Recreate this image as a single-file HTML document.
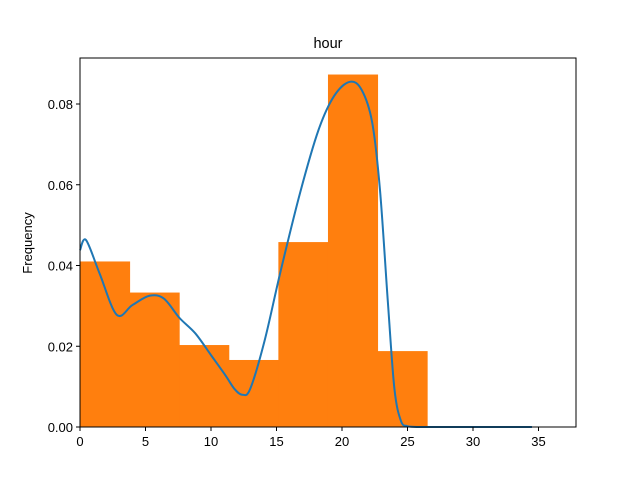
<!DOCTYPE html>
<html><head><meta charset="utf-8"><style>
body{margin:0;background:#fff}
text{font-family:"Liberation Sans","DejaVu Sans",sans-serif;fill:#000}
</style></head><body>
<svg id="chart" width="640" height="480">
<rect width="640" height="480" fill="#fff"/>
<g id="bars"></g>
<path id="kde" fill="none" stroke="#1f77b4" stroke-width="2"/>
<rect x="80" y="58" width="496" height="369" fill="none" stroke="#000" stroke-width="1"/>
<g id="xt"></g><g id="yt"></g>
<text x="328" y="48" font-size="14.5" text-anchor="middle">hour</text>
<text transform="translate(32,243) rotate(-90)" font-size="13" text-anchor="middle">Frequency</text>
</svg>
<script>
const binEdges=[0,3.786,7.571,11.357,15.143,18.929,22.714,26.5];
const binHeights=[0.041,0.0333,0.0203,0.0166,0.0458,0.0873,0.0188];
const kdeX=[0,0.46,1.5,2.8,4,5.3,6.4,7.6,8.8,10,11.1,11.8,12.4,13,14.1,15.3,16.8,18.2,19.4,20.6,21.5,22.3,22.9,23.5,24,24.5,25,26,30,34.5];
const kdeY=[0.0438,0.0463,0.038,0.0278,0.0302,0.0325,0.0318,0.027,0.0232,0.0178,0.0128,0.0094,0.008,0.0095,0.0215,0.0384,0.058,0.0735,0.082,0.0855,0.0835,0.0755,0.0587,0.031,0.0095,0.0015,0.0002,0,0,0];
const xTicks=[0,5,10,15,20,25,30,35];
const yTicks=[0,0.02,0.04,0.06,0.08];
const yLabels=["0.00","0.02","0.04","0.06","0.08"];
const X=v=>80+v*13.1, Y=v=>427-v*4037.5;
const NS="http://www.w3.org/2000/svg";
const bars=document.getElementById('bars');
binHeights.forEach((h,i)=>{const r=document.createElementNS(NS,'rect');
r.setAttribute('x',X(binEdges[i]));r.setAttribute('width',X(binEdges[i+1])-X(binEdges[i])+0.5);
r.setAttribute('y',Y(h));r.setAttribute('height',Y(0)-Y(h));r.setAttribute('fill','#ff7f0e');


bars.appendChild(r);});
const P=kdeX.map((x,i)=>[X(x),Y(kdeY[i])]);
const cy=v=>Math.min(v,427);
let d='M'+P[0][0]+','+P[0][1];
for(let i=0;i<P.length-1;i++){const p0=P[Math.max(0,i-1)],p1=P[i],p2=P[i+1],p3=P[Math.min(P.length-1,i+2)];
d+=' C'+(p1[0]+(p2[0]-p0[0])/6)+','+cy(p1[1]+(p2[1]-p0[1])/6)+' '+(p2[0]-(p3[0]-p1[0])/6)+','+cy(p2[1]-(p3[1]-p1[1])/6)+' '+p2[0]+','+p2[1];}
document.getElementById('kde').setAttribute('d',d);
const xt=document.getElementById('xt');
xTicks.forEach(t=>{const l=document.createElementNS(NS,'line');l.setAttribute('x1',X(t));l.setAttribute('x2',X(t));l.setAttribute('y1',427);l.setAttribute('y2',431);l.setAttribute('stroke','#000');


xt.appendChild(l);
const s=document.createElementNS(NS,'text');s.setAttribute('x',X(t));s.setAttribute('y',446);s.setAttribute('font-size','13');s.setAttribute('text-anchor','middle');s.textContent=t;


xt.appendChild(s);});
const yt=document.getElementById('yt');
yTicks.forEach((t,i)=>{const l=document.createElementNS(NS,'line');l.setAttribute('x1',76);l.setAttribute('x2',80);l.setAttribute('y1',Y(t));l.setAttribute('y2',Y(t));l.setAttribute('stroke','#000');


yt.appendChild(l);
const s=document.createElementNS(NS,'text');s.setAttribute('x',73);s.setAttribute('y',Y(t)+5);s.setAttribute('font-size','13');s.setAttribute('text-anchor','end');s.textContent=yLabels[i];


yt.appendChild(s);});
</script>
</body></html>
